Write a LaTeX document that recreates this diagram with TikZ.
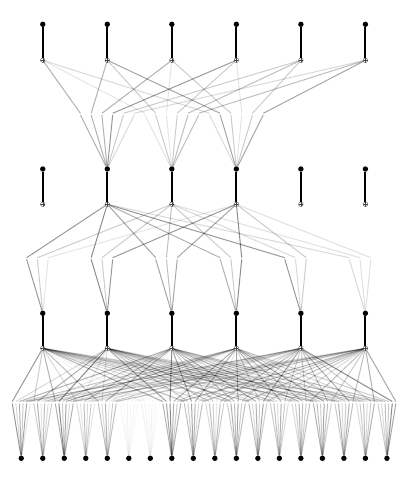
\documentclass[tikz,border=0pt]{standalone}
\tikzset{
 dotnode/.style={circle,fill=black,inner sep=0pt,minimum size=5.4pt},
 sumnode/.style={circle,draw=black!75,fill=white,line width=0.35pt,inner sep=0pt,minimum size=4.6pt,
   path picture={\draw[line width=0.35pt,black!75] (path picture bounding box.north)--(path picture bounding box.south) (path picture bounding box.west)--(path picture bounding box.east);}},
 stem/.style={line width=2pt,black},
 edge/.style={line width=1pt,black},
}
\begin{document}
\begin{tikzpicture}[x=1pt,y=-1pt]
\useasboundingbox (0,0) rectangle (407,482);
% input layer
\foreach \i in {0,...,17}{
  \pgfmathsetmacro\xx{10.5+(\i+0.5)*21.51}
  \node[dotnode] (in\i) at (\xx,458.3) {};
}
% hidden / output layers: dot + sum node
\foreach \L/\yd/\ys in {1/313.3/348.3, 2/169/204.3, 3/24.3/60.3}{
  \foreach \k in {0,...,5}{
    \pgfmathsetmacro\xx{10.5+(\k+0.5)*64.53}
    \node[dotnode] (d\L-\k) at (\xx,\yd) {};
    \node[sumnode] (s\L-\k) at (\xx,\ys) {};
    \draw[stem] (d\L-\k) -- (s\L-\k);
  }
}
% layer 0 -> 1
\foreach \i/\r in {
  0/{.40,.15,.30,.20,.35,.10},
  1/{.20,.30,.10,.25,.15,.20},
  2/{.30,.45,.20,.35,.15,.30},
  3/{.15,.10,.25,.15,.20,.10},
  4/{.25,.15,.30,.10,.20,.25},
  5/{.04,.03,.05,.03,.04,.03},
  6/{.05,.04,.03,.05,.04,.03},
  7/{.30,.35,.45,.30,.20,.30},
  8/{.25,.20,.35,.30,.15,.25},
  9/{.15,.25,.20,.10,.25,.20},
  10/{.20,.30,.25,.35,.20,.25},
  11/{.25,.15,.30,.20,.35,.20},
  12/{.20,.25,.15,.30,.20,.15},
  13/{.15,.20,.30,.25,.20,.25},
  14/{.30,.25,.20,.35,.25,.20},
  15/{.20,.30,.15,.20,.30,.25},
  16/{.15,.20,.25,.15,.20,.30},
  17/{.20,.15,.25,.20,.45,.35}}{
  \foreach \a [count=\j from 0] in \r {
    \pgfmathsetmacro\fx{10.5+(\i+0.5)*21.51+(\j-2.5)*3.585}
    \coordinate (a1-\i-\j) at (\fx,403.5);
    \coordinate (b1-\i-\j) at (\fx,401.5);
    \draw[edge,draw opacity=\a] (in\i) -- (a1-\i-\j);
    \draw[edge,draw opacity=\a] (b1-\i-\j) -- (s1-\j);
  }
}
% layer 1 -> 2 (only outputs 1,2,3)
\foreach \k/\r in {
  0/{.40,.20,.10},
  1/{.45,.20,.40},
  2/{.35,.25,.35},
  3/{.30,.20,.45},
  4/{.40,.15,.20},
  5/{.15,.12,.12}}{
  \foreach \a [count=\j from 1] in \r {
    \pgfmathsetmacro\fx{10.5+(\k+0.5)*64.53+(\j-2.5)*10.755}
    \coordinate (a2-\k-\j) at (\fx,259.3);
    \coordinate (b2-\k-\j) at (\fx,257.7);
    \draw[edge,draw opacity=\a] (d1-\k) -- (a2-\k-\j);
    \draw[edge,draw opacity=\a] (b2-\k-\j) -- (s2-\j);
  }
}
% layer 2 -> 3 (only inputs 1,2,3)
\foreach \k/\r in {
  1/{.30,.30,.30,.40,.20,.15},
  2/{.10,.20,.10,.20,.25,.25},
  3/{.15,.35,.20,.10,.20,.35}}{
  \foreach \a [count=\j from 0] in \r {
    \pgfmathsetmacro\fx{10.5+(\k+0.5)*64.53+(\j-2.5)*10.755}
    \coordinate (a3-\k-\j) at (\fx,115);
    \coordinate (b3-\k-\j) at (\fx,113.3);
    \draw[edge,draw opacity=\a] (d2-\k) -- (a3-\k-\j);
    \draw[edge,draw opacity=\a] (b3-\k-\j) -- (s3-\j);
  }
}
\end{tikzpicture}
\end{document}
